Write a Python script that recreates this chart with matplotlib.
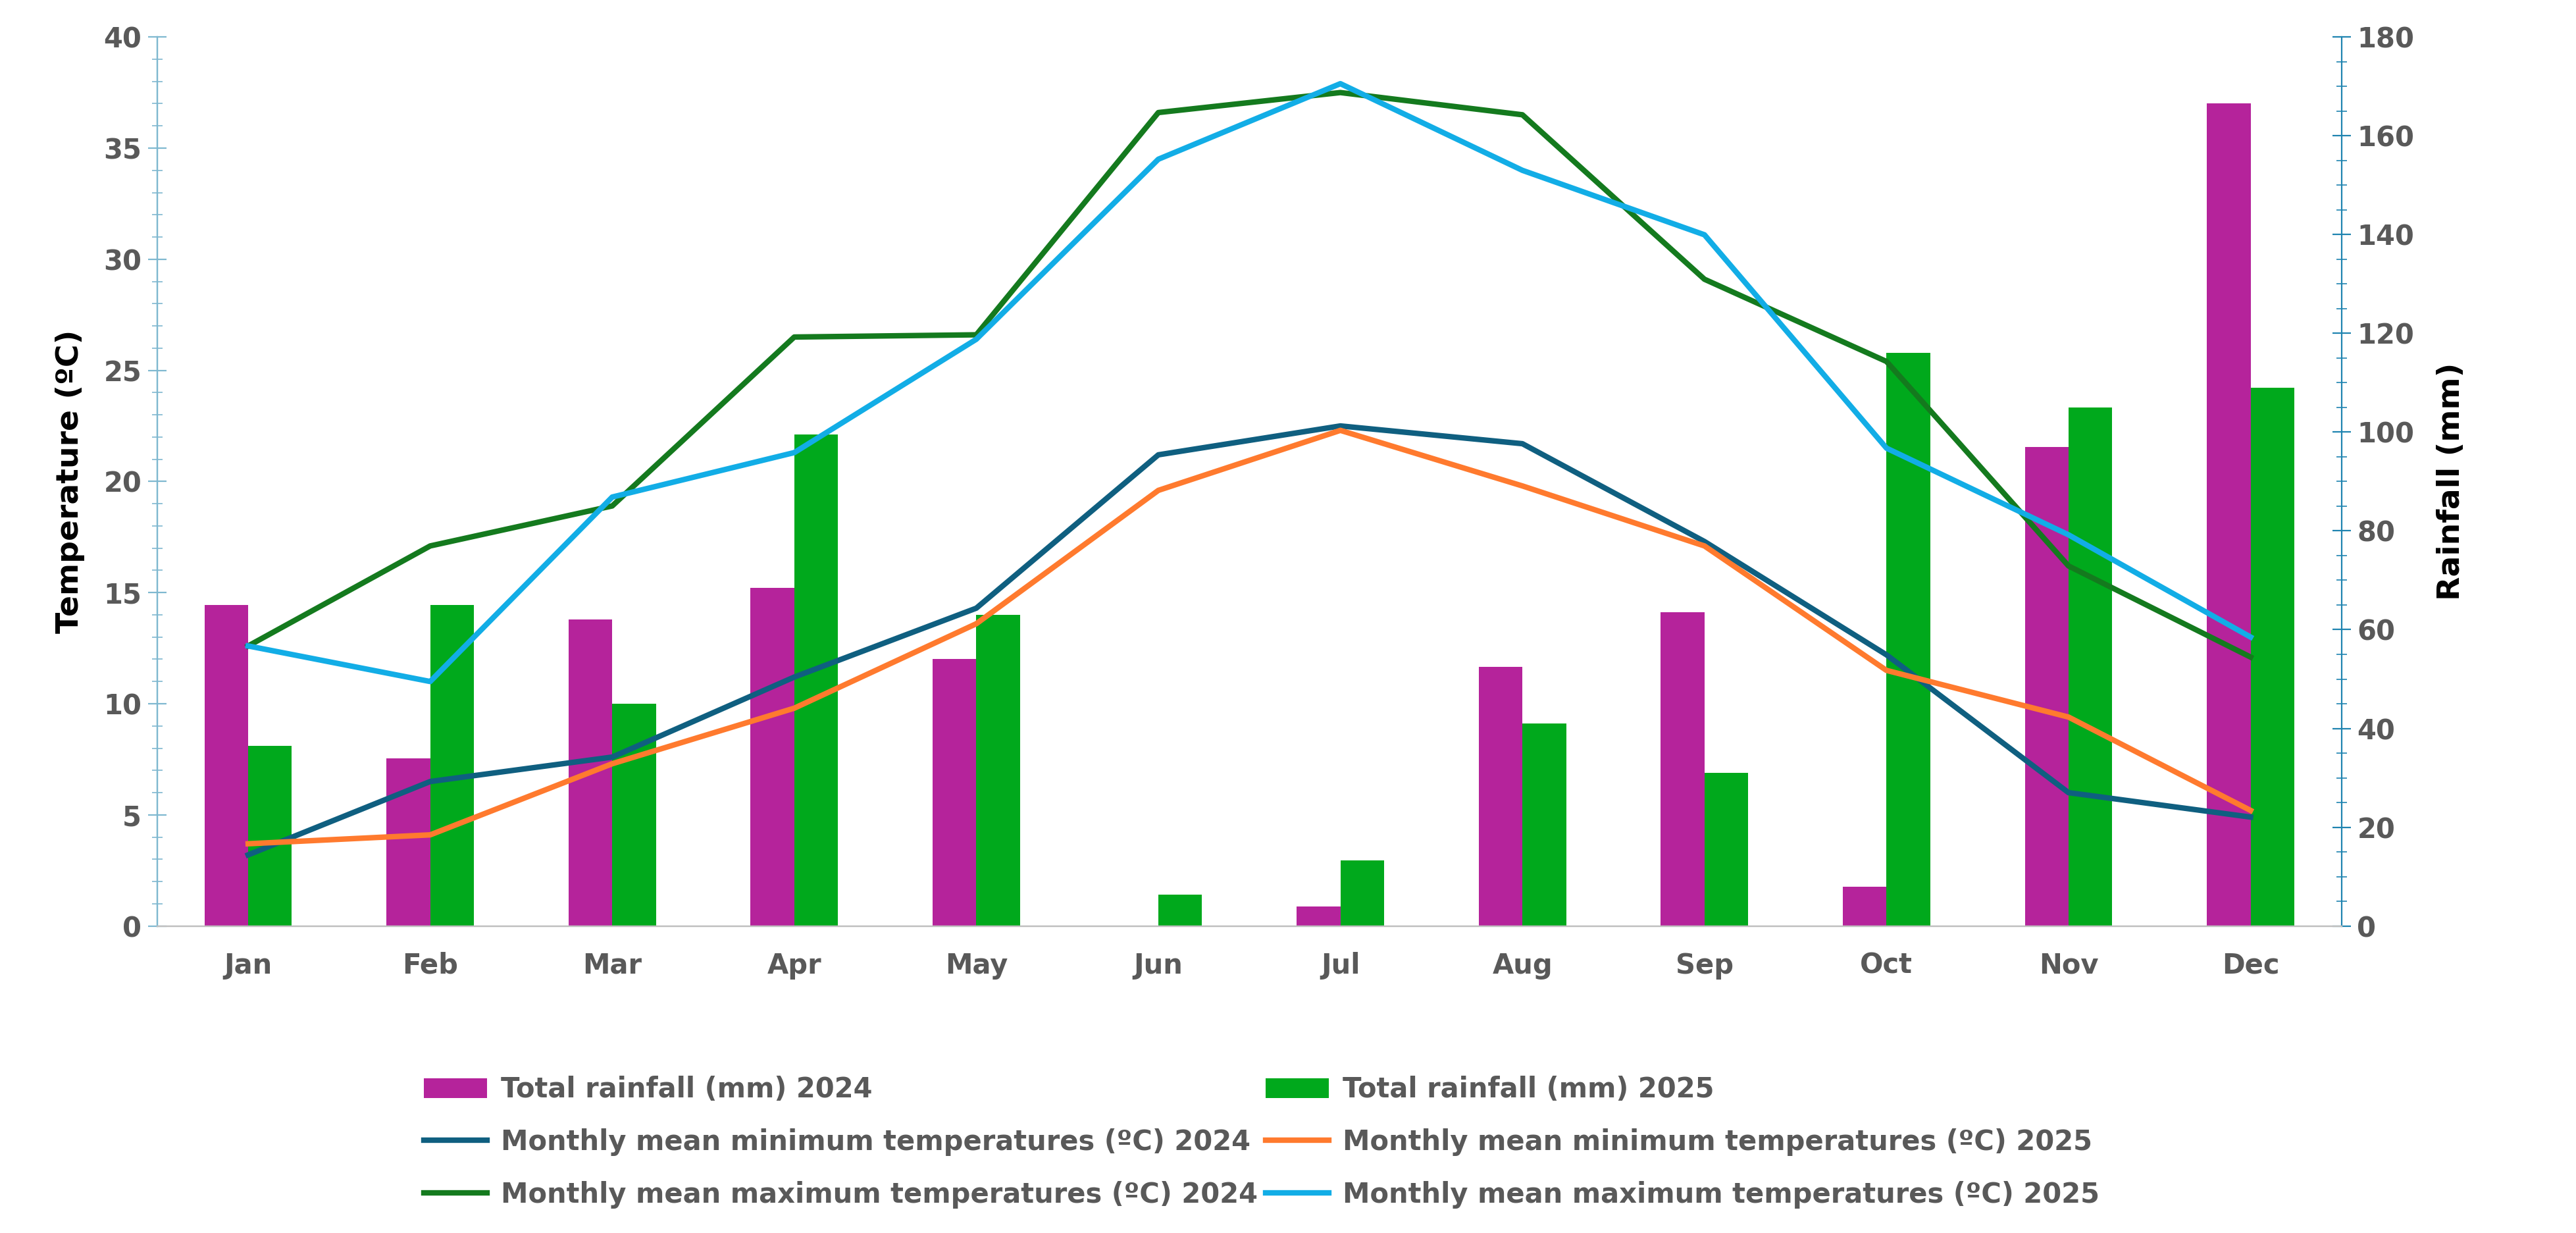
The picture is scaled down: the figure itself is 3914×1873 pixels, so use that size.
import matplotlib.pyplot as plt
import numpy as np
from matplotlib.ticker import MultipleLocator

months = ['Jan', 'Feb', 'Mar', 'Apr', 'May', 'Jun', 'Jul', 'Aug', 'Sep', 'Oct', 'Nov', 'Dec']
rain_2024 = [65, 34, 62, 68.5, 54, 0, 4, 52.5, 63.5, 8, 97, 166.5]
rain_2025 = [36.5, 65, 45, 99.5, 63, 6.3, 13.3, 41, 31, 116, 105, 109]
tmin_2024 = [3.2, 6.5, 7.6, 11.2, 14.3, 21.2, 22.5, 21.7, 17.3, 12.2, 6.0, 4.9]
tmin_2025 = [3.7, 4.1, 7.3, 9.8, 13.6, 19.6, 22.3, 19.8, 17.1, 11.5, 9.4, 5.2]
tmax_2024 = [12.6, 17.1, 18.9, 26.5, 26.6, 36.6, 37.5, 36.5, 29.1, 25.4, 16.2, 12.1]
tmax_2025 = [12.6, 11.0, 19.3, 21.3, 26.4, 34.5, 37.9, 34.0, 31.1, 21.5, 17.6, 13.0]

grey = '#595959'
plt.rcParams['font.family'] = 'DejaVu Sans'
fig = plt.figure(figsize=(19.57, 9.365), dpi=200)
ax = fig.add_axes([0.061, 0.249, 0.848, 0.721])
ax2 = ax.twinx()
ax.set_zorder(ax2.get_zorder() + 1)
ax.patch.set_visible(False)

x = np.arange(len(months))
w = 0.24
b1 = ax2.bar(x - w / 2, rain_2024, w, color='#B5239B', label='Total rainfall (mm) 2024')
b2 = ax2.bar(x + w / 2, rain_2025, w, color='#00A91C', label='Total rainfall (mm) 2025')

lw = 3
l1, = ax.plot(x, tmin_2024, color='#0F5F80', lw=lw, label='Monthly mean minimum temperatures (ºC) 2024')
l2, = ax.plot(x, tmin_2025, color='#FF7A2E', lw=lw, label='Monthly mean minimum temperatures (ºC) 2025')
l3, = ax.plot(x, tmax_2024, color='#147A1E', lw=lw, label='Monthly mean maximum temperatures (ºC) 2024')
l4, = ax.plot(x, tmax_2025, color='#12ADE6', lw=lw, label='Monthly mean maximum temperatures (ºC) 2025')

ax.set_xlim(-0.5, 11.5)
ax.set_ylim(0, 40)
ax2.set_ylim(0, 180)
ax.yaxis.set_major_locator(MultipleLocator(5))
ax.yaxis.set_minor_locator(MultipleLocator(1))
ax2.yaxis.set_major_locator(MultipleLocator(20))
ax2.yaxis.set_minor_locator(MultipleLocator(5))
ax.set_xticks(x)
ax.set_xticklabels(months)

for a in (ax, ax2):
    for s in ('top',):
        a.spines[s].set_visible(False)
ax.spines['right'].set_visible(False)
ax2.spines['left'].set_color('#7FB8D0')
ax2.spines['right'].set_color('#1F84B0')
ax2.spines['bottom'].set_color('#BFBFBF')
ax.spines['bottom'].set_color('#BFBFBF')
ax.spines['left'].set_color('#7FB8D0')
ax.tick_params(axis='y', which='both', direction='inout', colors='#7FB8D0', labelcolor=grey, labelsize=15, length=10)
ax.tick_params(axis='y', which='minor', length=6)
ax2.tick_params(axis='y', which='both', direction='inout', colors='#1F84B0', labelcolor=grey, labelsize=15, length=10)
ax2.tick_params(axis='y', which='minor', length=6)
ax.tick_params(axis='x', length=0, labelcolor=grey, labelsize=15, pad=14)
for lab in ax.get_yticklabels() + ax2.get_yticklabels() + ax.get_xticklabels():
    lab.set_fontweight('bold')

ax.set_ylabel('Temperature (ºC)', fontsize=17, fontweight='bold', labelpad=10)
ax2.set_ylabel('Rainfall (mm)', fontsize=17, fontweight='bold', labelpad=12)

leg = fig.legend(handles=[b1, l1, l3, b2, l2, l4], ncol=2, loc='lower left',
                 bbox_to_anchor=(0.155, 0.0), frameon=False, fontsize=15,
                 handlelength=2.3, columnspacing=0.3, labelspacing=0.9, handletextpad=0.5)
for t in leg.get_texts():
    t.set_color(grey)
    t.set_fontweight('bold')

fig.savefig('out.png', dpi=200)
